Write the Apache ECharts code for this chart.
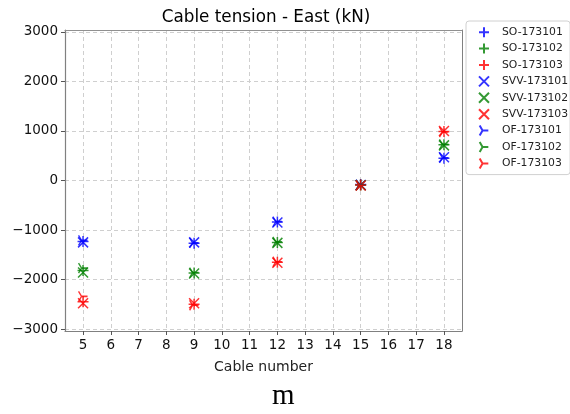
<!DOCTYPE html>
<html>
<head>
<meta charset="utf-8">
<script src="https://cdn.jsdelivr.net/npm/echarts@6/dist/echarts.min.js"></script>
<style>
  html, body { margin: 0; padding: 0; background: #fff; }
  #chart { width: 570px; height: 414px; }
</style>
</head>
<body>
<div id="chart"></div>
<script>
// Cable numbers carrying measurements
const cables = [5, 9, 12, 15, 18];
const tickValues = [5, 6, 7, 8, 9, 10, 11, 12, 13, 14, 15, 16, 17, 18];
const yTicks = [-3000, -2000, -1000, 0, 1000, 2000, 3000];

// Tension per load case (kN), one value per cable
const so173101  = [-1230, -1270, -840, -80, 450];
const so173102  = [-1820, -1870, -1250, -90, 720];
const so173103  = [-2450, -2500, -1650, -90, 990];
const svv173101 = [-1250, -1250, -850, -90, 470];
const svv173102 = [-1860, -1880, -1260, -95, 710];
const svv173103 = [-2480, -2480, -1660, -100, 1000];
const of173101  = [-1210, -1260, -830, -85, 460];
const of173102  = [-1770, -1860, -1240, -90, 730];
const of173103  = [-2340, -2520, -1640, -95, 980];

const FONT = 'DejaVu Sans';
const PLUS = 'path://M0,-1L0,1M-1,0L1,0';
const CROSS = 'path://M-1,-1L1,1M-1,1L1,-1';
const TRI = 'path://M0,0L1,0M0,0L-0.5,-0.866M0,0L-0.5,0.866';

const seriesDefs = [
  { name: 'SO-173101', data: so173101, color: '#0000ff', symbol: PLUS, size: [11, 11] },
  { name: 'SO-173102', data: so173102, color: '#008000', symbol: PLUS, size: [11, 11] },
  { name: 'SO-173103', data: so173103, color: '#ff0000', symbol: PLUS, size: [11, 11] },
  { name: 'SVV-173101', data: svv173101, color: '#0000ff', symbol: CROSS, size: [10, 10] },
  { name: 'SVV-173102', data: svv173102, color: '#008000', symbol: CROSS, size: [10, 10] },
  { name: 'SVV-173103', data: svv173103, color: '#ff0000', symbol: CROSS, size: [10, 10] },
  { name: 'OF-173101', data: of173101, color: '#0000ff', symbol: TRI, size: [9, 10] },
  { name: 'OF-173102', data: of173102, color: '#008000', symbol: TRI, size: [9, 10] },
  { name: 'OF-173103', data: of173103, color: '#ff0000', symbol: TRI, size: [9, 10] }
];

const minusFmt = v => String(v).replace('-', '\u2212');

const chart = echarts.init(document.getElementById('chart'), null, { renderer: 'canvas' });

const gridLine = { show: true, lineStyle: { color: '#cfcfcf', type: [4, 3], width: 1 } };

chart.setOption({
  animation: false,
  backgroundColor: '#ffffff',
  title: {
    text: 'Cable tension - East (kN)',
    left: 261, top: 4, textAlign: 'center',
    textStyle: { fontFamily: FONT, fontSize: 16.8, fontWeight: 'normal', color: '#000' }
  },
  legend: {
    orient: 'vertical',
    left: 466, top: 21,
    padding: [5, 2, 5, 12],
    itemGap: 4,
    itemWidth: 10, itemHeight: 10,
    borderColor: '#d0d0d0', borderWidth: 1, borderRadius: 3,
    backgroundColor: '#fff',
    textStyle: { fontFamily: FONT, fontSize: 10.8, lineHeight: 12.4, color: '#222', padding: [0, 0, 0, 8] },
    data: seriesDefs.map(s => ({ name: s.name, icon: s.symbol }))
  },
  grid: { left: 65, right: 108, top: 30, bottom: 83, containLabel: false },
  xAxis: [{
    type: 'value', min: 4.35, max: 18.65,
    name: 'Cable number', nameLocation: 'middle', nameGap: 29,
    nameTextStyle: { fontFamily: FONT, fontSize: 14, color: '#222' },
    axisLine: { show: true, onZero: false, lineStyle: { color: '#808080', width: 1.2 } },
    axisTick: { show: true, customValues: tickValues, length: 4, lineStyle: { color: '#555' } },
    axisLabel: { customValues: tickValues, fontFamily: FONT, fontSize: 13.5, color: '#111', margin: 7 },
    splitLine: gridLine
  }, {
    type: 'value', min: 4.35, max: 18.65, position: 'top',
    axisLine: { show: true, onZero: false, lineStyle: { color: '#909090', width: 1 } },
    axisTick: { show: false }, axisLabel: { show: false }, splitLine: { show: false }
  }],
  yAxis: [{
    type: 'value', min: -3040, max: 3040,
    axisLine: { show: true, onZero: false, lineStyle: { color: '#808080', width: 1.2 } },
    axisTick: { show: true, customValues: yTicks, length: 4, lineStyle: { color: '#555' } },
    axisLabel: { customValues: yTicks, fontFamily: FONT, fontSize: 13.5, color: '#111', margin: 7, formatter: minusFmt },
    splitLine: gridLine
  }, {
    type: 'value', min: -3040, max: 3040, position: 'right',
    axisLine: { show: true, onZero: false, lineStyle: { color: '#808080', width: 1 } },
    axisTick: { show: false }, axisLabel: { show: false }, splitLine: { show: false }
  }],
  graphic: [{
    type: 'text', left: 272, top: 382,
    style: { text: 'm', fontFamily: 'Liberation Serif', fontSize: 29, fill: '#000' }
  }],
  series: seriesDefs.map(s => ({
    name: s.name,
    type: 'scatter',
    xAxisIndex: 0, yAxisIndex: 0,
    symbol: s.symbol,
    symbolSize: s.size,
    data: cables.map((c, i) => [c, s.data[i]]),
    itemStyle: { color: 'rgba(0,0,0,0)', borderColor: s.color, borderWidth: 1.5 },
    emphasis: { disabled: true }
  }))
});
</script>
</body>
</html>
